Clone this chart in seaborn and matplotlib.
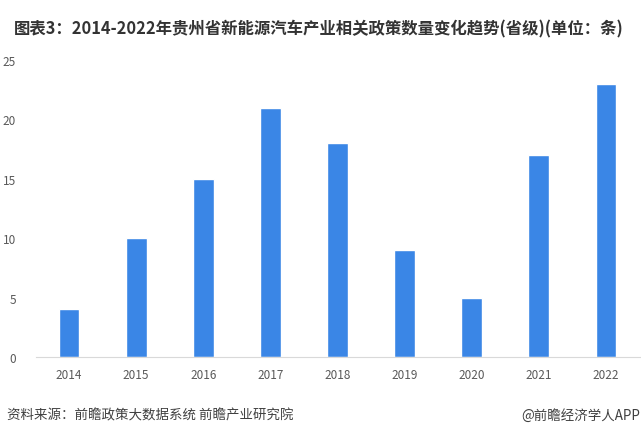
import matplotlib
matplotlib.use("Agg")
import matplotlib.pyplot as plt
import seaborn as sns
import pandas as pd

years = ["2014", "2015", "2016", "2017", "2018", "2019", "2020", "2021", "2022"]
counts = [4, 10, 15, 21, 18, 9, 5, 17, 23]

sns.set_style("white")
plt.rcParams['font.family'] = ['Noto Sans CJK SC', 'DejaVu Sans']

df = pd.DataFrame({"year": years, "count": counts})

fig = plt.figure(figsize=(6.41, 4.39), dpi=100)
ax = fig.add_axes([0.0554, 0.1845, 0.9423, 0.6765])

sns.barplot(data=df, x="year", y="count", color="#3a86e6", width=0.31,
            saturation=1, ax=ax)

ax.set_ylim(0, 25)
ax.set_yticks([0, 5, 10, 15, 20, 25])
ax.set_xlabel("")
ax.set_ylabel("")
for s in ["top", "right", "left"]:
    ax.spines[s].set_visible(False)
ax.spines["bottom"].set_color("#d9d9d9")
ax.tick_params(axis="both", length=0, labelsize=8.5, colors="#595959")
ax.tick_params(axis="y", pad=14)
ax.tick_params(axis="x", pad=8)

fig.text(0.022, 0.934, "图表3：2014-2022年贵州省新能源汽车产业相关政策数量变化趋势(省级)(单位：条)",
         fontsize=11.8, fontweight="bold", color="#333333", va="center")
fig.text(0.011, 0.053, "资料来源：前瞻政策大数据系统 前瞻产业研究院",
         fontsize=9.7, color="#404040", va="center")
fig.text(0.998, 0.053, "@前瞻经济学人APP",
         fontsize=9.7, color="#404040", va="center", ha="right")

fig.savefig("out.png", dpi=100)
